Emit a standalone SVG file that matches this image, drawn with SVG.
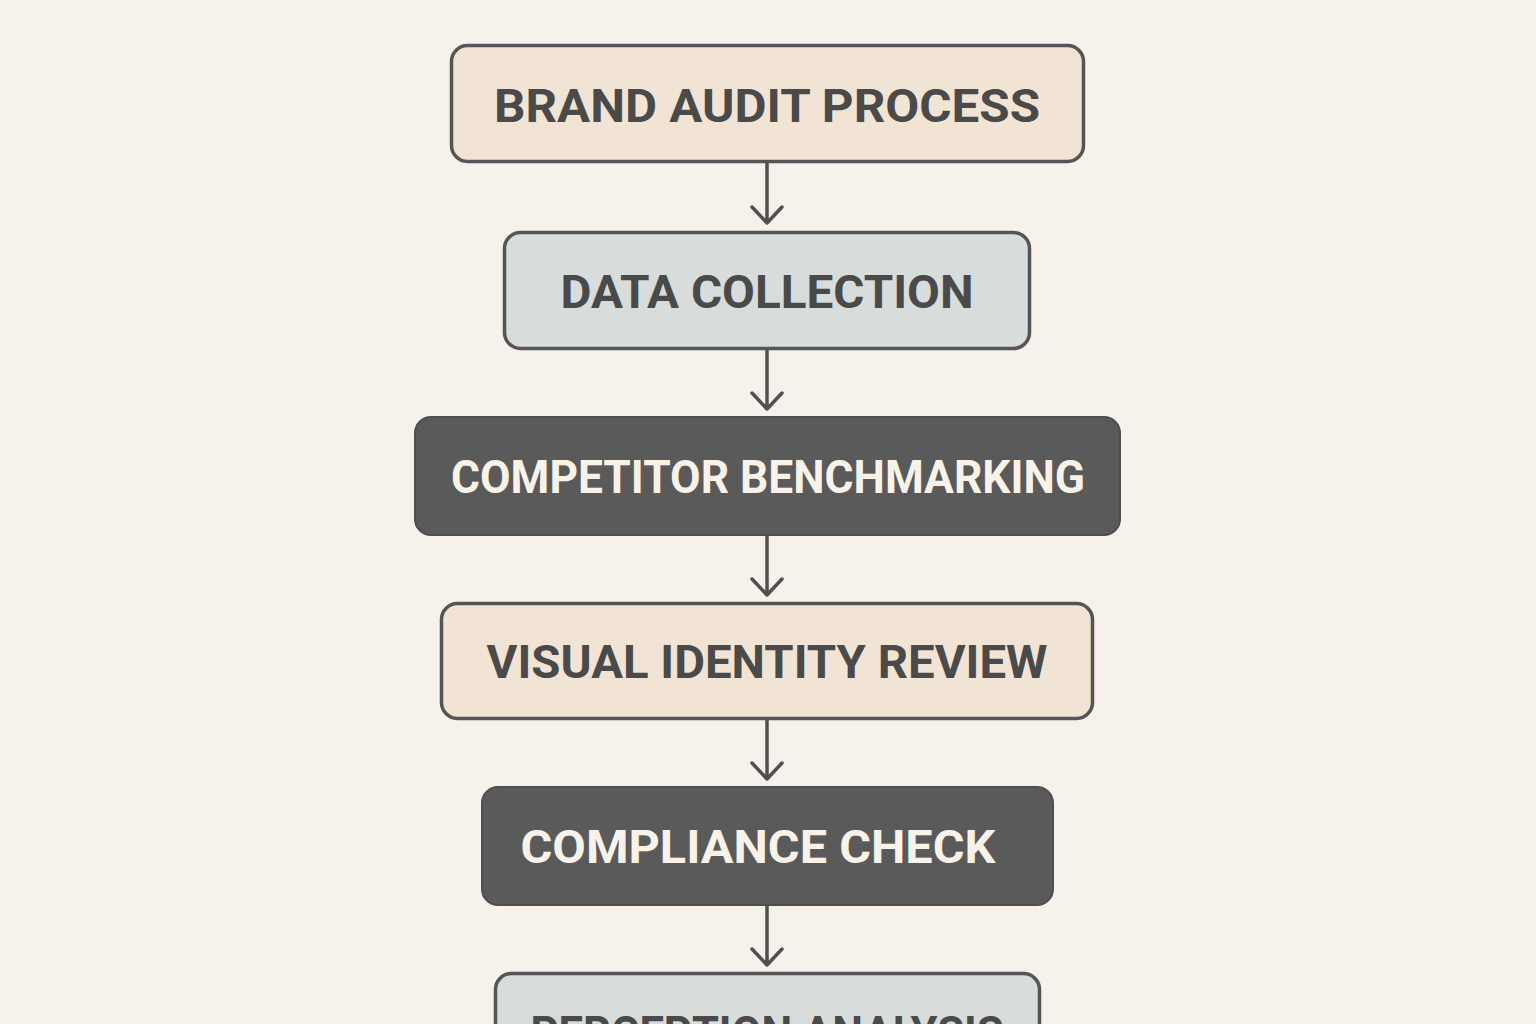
<svg xmlns="http://www.w3.org/2000/svg" width="1536" height="1024" viewBox="0 0 1536 1024">
<defs>
<style>
.bg{fill:#f6f2eb}
.box{stroke:#555555;stroke-width:3.5}
.beige{fill:#f2e4d4}
.gray{fill:#d8dcdb}
.dark{fill:#5a5a5a;stroke:#4e4e4e;stroke-width:2}
.t{font-family:Roboto,"Liberation Sans",sans-serif;font-weight:700;font-size:46px;text-anchor:middle}
.tl{fill:#4a4a4a}
.td{fill:#f8f2e8}
.edge{stroke:#505050;stroke-width:3.5;fill:none;stroke-linecap:round;stroke-linejoin:round}
</style>
</defs>
<rect class="bg" x="0" y="0" width="1536" height="1024"/>
<g id="connectors">
<path class="edge" d="M767 162 V223 M752 207 L767 223 L782 207"/>
<path class="edge" d="M767 349 V409 M752 393 L767 409 L782 393"/>
<path class="edge" d="M767 535 V595 M752 579 L767 595 L782 579"/>
<path class="edge" d="M767 719 V779 M752 763 L767 779 L782 763"/>
<path class="edge" d="M767 905 V965 M752 949 L767 965 L782 949"/>
</g>
<g id="brand">
<rect class="box beige" x="451.5" y="45.5" width="632" height="116" rx="16"/>
<text class="t tl" x="767" y="122" textLength="546" lengthAdjust="spacingAndGlyphs">BRAND AUDIT PROCESS</text>
</g>
<g id="data">
<rect class="box gray" x="504.5" y="232.5" width="525" height="116" rx="16"/>
<text class="t tl" x="767" y="308" textLength="413" lengthAdjust="spacingAndGlyphs">DATA COLLECTION</text>
</g>
<g id="competitor">
<rect class="dark" x="415" y="417" width="705" height="118" rx="16"/>
<text class="t td" x="768" y="493" textLength="634" lengthAdjust="spacingAndGlyphs">COMPETITOR BENCHMARKING</text>
</g>
<g id="visual">
<rect class="box beige" x="441.5" y="603.5" width="651" height="115" rx="16"/>
<text class="t tl" x="767" y="678" textLength="561" lengthAdjust="spacingAndGlyphs">VISUAL IDENTITY REVIEW</text>
</g>
<g id="compliance">
<rect class="dark" x="482" y="787" width="571" height="118" rx="16"/>
<text class="t td" x="758" y="863" textLength="475" lengthAdjust="spacingAndGlyphs">COMPLIANCE CHECK</text>
</g>
<g id="perception">
<rect class="box gray" x="495.5" y="973.5" width="544" height="116" rx="16"/>
<text class="t tl" x="767" y="1049" textLength="473" lengthAdjust="spacingAndGlyphs">PERCEPTION ANALYSIS</text>
</g>
</svg>
